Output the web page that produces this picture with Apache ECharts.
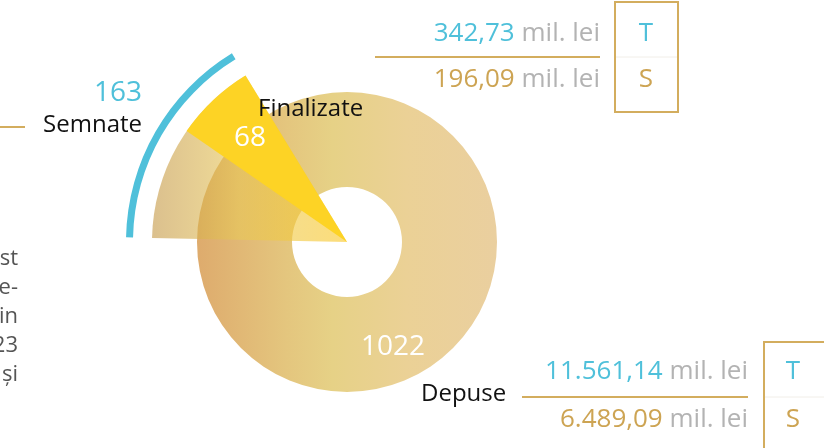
<!DOCTYPE html>
<html>
<head>
<meta charset="utf-8">
<script src="https://cdn.jsdelivr.net/npm/echarts@6/dist/echarts.min.js"></script>
<style>
html,body{margin:0;padding:0;background:#fff;}
#chart{width:824px;height:448px;}
</style>
</head>
<body>
<div id="chart"></div>
<script>
// ---- data ----
var categories = ['Depuse', 'Semnate', 'Finalizate'];
var counts = [1022, 163, 68];
var amountsT = ['11.561,14', '342,73'];   // T: depuse, semnate
var amountsS = ['6.489,09', '196,09'];    // S: depuse, semnate
var unit = 'mil. lei';
var sideText = ['st', 'e-', 'in', '23', 'și'];

var BLUE = '#4FC0DA', GOLD = '#D3AD5E', GOLDTXT = '#CDA453', GRAY = '#B3B3B3';
var FONT = '"Open Sans", sans-serif';
var C = [347, 242];
var START = 178.8;

var total = counts[0], semn = counts[1], fin = counts[2];

var chart = echarts.init(document.getElementById('chart'), null, {renderer: 'canvas'});

function grad(stops) {
  return new echarts.graphic.LinearGradient(0, 0, 1, 0, stops.map(function (s) { return {offset: s[0], color: s[1]}; }));
}
var hidden = {color: 'transparent', borderWidth: 0};
var base = {
  type: 'pie', center: C, silent: true, animation: false, clockwise: true,
  label: {show: false}, labelLine: {show: false}, emphasis: {disabled: true},
  avoidLabelOverlap: false
};
function pie(extra) { return Object.assign({}, base, extra); }

var option = {
  backgroundColor: '#ffffff',
  animation: false,
  series: [
    pie({
      name: categories[0], z: 1, radius: [55, 150], startAngle: 90,
      data: [{value: total, name: categories[0], itemStyle: {borderWidth: 0,
        color: grad([[0, '#DEAB6D'], [0.3, '#E4C67E'], [0.45, '#E6D186'], [0.7, '#EBD196'], [1, '#EACF9F']])}}]
    }),
    pie({
      name: categories[1], z: 2, radius: [0, 195], startAngle: START,
      data: [
        {value: semn, name: categories[1], itemStyle: {borderWidth: 0,
          color: grad([[0, 'rgba(197,153,72,0.62)'], [0.45, 'rgba(232,200,88,0.62)'], [1, 'rgba(250,200,40,0.62)']])}},
        {value: total - semn, name: '', itemStyle: hidden}
      ]
    }),
    pie({
      name: categories[2], z: 3, radius: [0, 195], startAngle: START,
      data: [
        {value: semn - fin, name: '', itemStyle: hidden},
        {value: fin, name: categories[2], itemStyle: {color: '#FDD325', borderWidth: 0}},
        {value: total - semn, name: '', itemStyle: hidden}
      ]
    }),
    pie({
      name: 'arc', z: 2, radius: [214, 221], startAngle: START,
      data: [
        {value: semn, name: categories[1] + ' arc', itemStyle: {color: BLUE, borderWidth: 0}},
        {value: total - semn, name: '', itemStyle: hidden}
      ]
    })
  ],
  graphic: {
    elements: [
      // left fragments
    ].concat(sideText.map(function (t, i) {
      return {type: 'text', z: 10, style: {text: t, x: 18, y: 259 + i * 29, align: 'right', verticalAlign: 'middle',
        fill: '#555555', font: '22px ' + FONT}};
    })).concat([
      {type: 'line', z: 10, shape: {x1: 0, y1: 127, x2: 25, y2: 127}, style: {stroke: GOLD, lineWidth: 2}},
      {type: 'text', z: 10, style: {text: String(semn), x: 142, y: 93, align: 'right', verticalAlign: 'middle', fill: BLUE, font: '28px ' + FONT}},
      {type: 'text', z: 10, style: {text: categories[1], x: 142, y: 125, align: 'right', verticalAlign: 'middle', fill: '#111', font: '24px ' + FONT}},
      {type: 'text', z: 10, style: {text: categories[2], x: 258, y: 109, align: 'left', verticalAlign: 'middle', fill: '#111', font: '24px ' + FONT}},
      {type: 'text', z: 10, style: {text: String(fin), x: 250, y: 138, align: 'center', verticalAlign: 'middle', fill: '#fff', font: '28px ' + FONT}},
      {type: 'text', z: 10, style: {text: String(total), x: 393, y: 347, align: 'center', verticalAlign: 'middle', fill: '#fff', font: '28px ' + FONT}},
      {type: 'text', z: 10, style: {text: categories[0], x: 421, y: 394, align: 'left', verticalAlign: 'middle', fill: '#111', font: '24px ' + FONT}},
      // top block (semnate amounts)
      {type: 'text', z: 10, style: {text: '{a|' + amountsT[1] + '} {b|' + unit + '}', x: 600, y: 34, align: 'right', verticalAlign: 'middle',
        rich: {a: {fill: BLUE, font: '26px ' + FONT}, b: {fill: GRAY, font: '26px ' + FONT}}, font: '26px ' + FONT}},
      {type: 'line', z: 10, shape: {x1: 375, y1: 57, x2: 600, y2: 57}, style: {stroke: GOLD, lineWidth: 2}},
      {type: 'text', z: 10, style: {text: '{a|' + amountsS[1] + '} {b|' + unit + '}', x: 600, y: 80, align: 'right', verticalAlign: 'middle',
        rich: {a: {fill: GOLDTXT, font: '26px ' + FONT}, b: {fill: GRAY, font: '26px ' + FONT}}, font: '26px ' + FONT}},
      {type: 'line', z: 9, shape: {x1: 616, y1: 57, x2: 677, y2: 57}, style: {stroke: '#F1EEE8', lineWidth: 1}},
      {type: 'rect', z: 10, shape: {x: 615, y: 2, width: 63, height: 110}, style: {fill: 'none', stroke: GOLD, lineWidth: 2}},
      {type: 'text', z: 10, style: {text: 'T', x: 646, y: 34, align: 'center', verticalAlign: 'middle', fill: BLUE, font: '26px ' + FONT}},
      {type: 'text', z: 10, style: {text: 'S', x: 646, y: 80, align: 'center', verticalAlign: 'middle', fill: GOLDTXT, font: '26px ' + FONT}},
      // bottom block (depuse amounts)
      {type: 'text', z: 10, style: {text: '{a|' + amountsT[0] + '} {b|' + unit + '}', x: 748, y: 372, align: 'right', verticalAlign: 'middle',
        rich: {a: {fill: BLUE, font: '26px ' + FONT}, b: {fill: GRAY, font: '26px ' + FONT}}, font: '26px ' + FONT}},
      {type: 'line', z: 10, shape: {x1: 522, y1: 397, x2: 748, y2: 397}, style: {stroke: GOLD, lineWidth: 2}},
      {type: 'text', z: 10, style: {text: '{a|' + amountsS[0] + '} {b|' + unit + '}', x: 748, y: 420, align: 'right', verticalAlign: 'middle',
        rich: {a: {fill: GOLDTXT, font: '26px ' + FONT}, b: {fill: GRAY, font: '26px ' + FONT}}, font: '26px ' + FONT}},
      {type: 'line', z: 9, shape: {x1: 764, y1: 397, x2: 824, y2: 397}, style: {stroke: '#F1EEE8', lineWidth: 1}},
      {type: 'rect', z: 10, shape: {x: 764, y: 342, width: 80, height: 130}, style: {fill: 'none', stroke: GOLD, lineWidth: 2}},
      {type: 'text', z: 10, style: {text: 'T', x: 793, y: 372, align: 'center', verticalAlign: 'middle', fill: BLUE, font: '26px ' + FONT}},
      {type: 'text', z: 10, style: {text: 'S', x: 793, y: 420, align: 'center', verticalAlign: 'middle', fill: GOLDTXT, font: '26px ' + FONT}}
    ])
  }
};
chart.setOption(option);
</script>
</body>
</html>
